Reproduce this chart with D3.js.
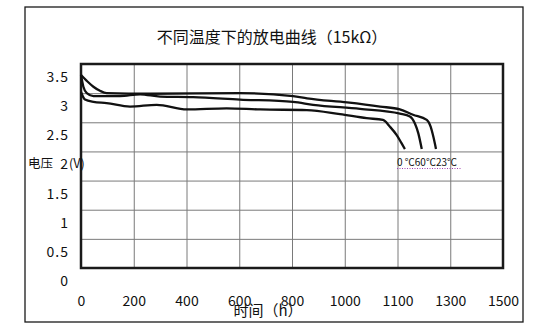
<!DOCTYPE html>
<html>
<head>
<meta charset="utf-8">
<script src="https://cdn.jsdelivr.net/npm/d3@7"></script>
<style>
  html, body { margin: 0; padding: 0; background: #fff; }
  svg { display: block; }
  text { font-family: "Noto Sans CJK SC", "Noto Sans", sans-serif; fill: #111; }
</style>
</head>
<body>
<svg id="chart" width="548" height="328"></svg>
<script>
// Discharge curves of a cell at three temperatures, 15 kΩ load
const chartTitle = "不同温度下的放电曲线（15kΩ）";
const xTitle = "时间（h）";
const yTitleMain = "电压";
const yTitleUnit = "(V)";
const legendText = "0 ℃60℃23℃";

const xTickValues = [0, 200, 400, 600, 800, 1000, 1200, 1400, 1600];
const xTickLabels = ["0", "200", "400", "600", "800", "1000", "1100", "1300", "1500"];
const yTickValues = [0, 0.5, 1, 1.5, 2, 2.5, 3, 3.5];
const yTickLabels = ["0", "0.5", "1", "1.5", "2", "2.5", "3", "3.5"];

// 23 ℃
const hours23 = [0, 22, 47, 72, 97, 262, 603, 804, 857, 1009, 1134, 1209, 1259, 1311, 1326, 1336, 1346];
const volts23 = [3.31, 3.21, 3.11, 3.04, 3.00, 2.99, 3.00, 2.95, 2.91, 2.84, 2.77, 2.72, 2.63, 2.54, 2.42, 2.25, 2.04];
// 60 ℃
const hours60 = [0, 9, 22, 47, 148, 224, 300, 425, 603, 804, 880, 1058, 1209, 1247, 1266, 1279, 1292];
const volts60 = [3.31, 3.11, 3.00, 2.95, 2.95, 2.98, 2.94, 2.93, 2.89, 2.85, 2.80, 2.73, 2.65, 2.60, 2.48, 2.31, 2.04];
// 0 ℃
const hours0 = [0, 15, 47, 97, 186, 287, 401, 552, 679, 856, 982, 1083, 1145, 1172, 1197, 1213, 1228];
const volts0 = [3.02, 2.89, 2.85, 2.83, 2.77, 2.80, 2.72, 2.74, 2.72, 2.71, 2.64, 2.57, 2.54, 2.42, 2.28, 2.16, 2.04];

const series = [
  { hours: hours23, volts: volts23 },
  { hours: hours60, volts: volts60 },
  { hours: hours0, volts: volts0 }
];

const svg = d3.select("#chart");
const plot = { left: 81, right: 503, top: 64, bottom: 268 };

const x = d3.scaleLinear().domain([0, 1600]).range([plot.left, plot.right]);
const y = d3.scaleLinear().domain([0, 3.5]).range([plot.bottom, plot.top]);

// outer frame
svg.append("rect")
  .attr("x", 25).attr("y", 7).attr("width", 498).attr("height", 315)
  .attr("fill", "#fff").attr("stroke", "#1a1a1a").attr("stroke-width", 1.3);

// title
svg.append("text")
  .attr("x", 272).attr("y", 43)
  .attr("text-anchor", "middle")
  .style("font-size", "16px")
  .text(chartTitle);

// grid
const gridX = svg.append("g")
  .attr("transform", `translate(0,${plot.bottom})`)
  .call(d3.axisBottom(x).tickValues(xTickValues.slice(1, -1))
    .tickSize(-(plot.bottom - plot.top)).tickFormat(""));
gridX.select(".domain").remove();
gridX.selectAll("line").attr("stroke", "#7a7a7a").attr("stroke-width", 1);

const gridY = svg.append("g")
  .attr("transform", `translate(${plot.left},0)`)
  .call(d3.axisLeft(y).tickValues(yTickValues.slice(1, -1))
    .tickSize(-(plot.right - plot.left)).tickFormat(""));
gridY.select(".domain").remove();
gridY.selectAll("line").attr("stroke", "#7a7a7a").attr("stroke-width", 1);

// plot border
svg.append("rect")
  .attr("x", plot.left).attr("y", plot.top)
  .attr("width", plot.right - plot.left).attr("height", plot.bottom - plot.top)
  .attr("fill", "none").attr("stroke", "#1a1a1a").attr("stroke-width", 2.5);

// y tick labels
const yAxis = svg.append("g")
  .attr("transform", "translate(69,13)")
  .call(d3.axisLeft(y).tickValues(yTickValues)
    .tickFormat((d, i) => yTickLabels[i]).tickSize(0).tickPadding(0));
yAxis.select(".domain").remove();
yAxis.selectAll("text").style("font-size", "14px").attr("fill", "#111")
  .style("letter-spacing", "1px");

// x tick labels
const xAxis = svg.append("g")
  .attr("transform", "translate(0,296)")
  .call(d3.axisBottom(x).tickValues(xTickValues)
    .tickFormat((d, i) => xTickLabels[i]).tickSize(0).tickPadding(0));
xAxis.select(".domain").remove();
xAxis.selectAll("text").style("font-size", "14px").attr("fill", "#111");

// axis titles
svg.append("text")
  .attr("x", 268).attr("y", 316)
  .attr("text-anchor", "middle")
  .style("font-size", "15px")
  .text(xTitle);

const yTitle = svg.append("text").attr("y", 168).style("font-size", "12.5px");
yTitle.append("tspan").attr("x", 28).text(yTitleMain);
yTitle.append("tspan").attr("x", 69).text(yTitleUnit);

// curves
const line = d3.line()
  .x(d => x(d[0]))
  .y(d => y(d[1]))
  .curve(d3.curveMonotoneX);

svg.append("g")
  .selectAll("path")
  .data(series)
  .join("path")
  .attr("d", s => line(d3.zip(s.hours, s.volts)))
  .attr("fill", "none")
  .attr("stroke", "#111")
  .attr("stroke-width", 2.3)
  .attr("stroke-linejoin", "round");

// temperature labels under the curve ends
svg.append("text")
  .attr("x", 397).attr("y", 166)
  .style("font-size", "10px")
  .text(legendText);
svg.append("line")
  .attr("x1", 397).attr("x2", 461)
  .attr("y1", 168.5).attr("y2", 168.5)
  .attr("stroke", "#a040b0").attr("stroke-width", 1)
  .attr("stroke-dasharray", "1,1.5");
</script>
</body>
</html>
